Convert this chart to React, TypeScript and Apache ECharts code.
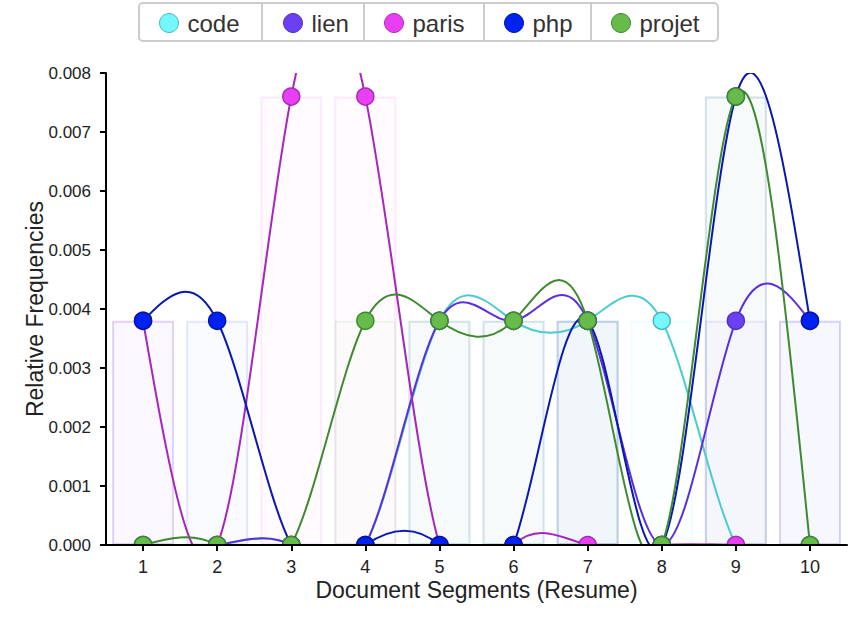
import React, { useEffect, useRef } from 'react';
import * as echarts from 'echarts';

const categories = ['1', '2', '3', '4', '5', '6', '7', '8', '9', '10'];
const seriesNames = ['code', 'lien', 'paris', 'php', 'projet'];
const codeValues = [0, 0, 0, 0, 0.0038, 0.0038, 0.0038, 0.0038, 0, 0];
const lienValues = [0, 0, 0, 0, 0.0038, 0.0038, 0.0038, 0, 0.0038, 0.0038];
const parisValues = [0.0038, 0, 0.0076, 0.0076, 0, 0, 0, 0, 0, 0];
const phpValues = [0.0038, 0.0038, 0, 0, 0, 0, 0.0038, 0, 0.0076, 0.0038];
const projetValues = [0, 0, 0, 0.0038, 0.0038, 0.0038, 0.0038, 0, 0.0076, 0];
const allValues = [codeValues, lienValues, parisValues, phpValues, projetValues];

const markerFill = ['#74f8fb', '#6b3ff2', '#e83ff2', '#0022ee', '#66bb4a'];
const markerStroke = ['#4ab6ba', '#5230c4', '#a82db8', '#0016a8', '#3f8a30'];
const lineColor = ['#4ccbd0', '#5a2fe0', '#a526b8', '#0a18b0', '#3e8a2e'];
const barRgb = ['116,248,251', '107,63,242', '232,63,242', '0,34,238', '102,187,74'];
const legendLefts = [159, 283, 384, 504, 611];
const dividerXs = [262, 364, 484, 591];

const FONT = '"Liberation Sans", Arial, Helvetica, sans-serif';

function controlPoints(x: number[]) {
  const n = x.length - 1;
  const a = new Array(n);
  const b = new Array(n);
  const r = new Array(n);
  let m;
  a[0] = 0; b[0] = 2; r[0] = x[0] + 2 * x[1];
  for (let i = 1; i < n - 1; ++i) { a[i] = 1; b[i] = 4; r[i] = 4 * x[i] + 2 * x[i + 1]; }
  a[n - 1] = 2; b[n - 1] = 7; r[n - 1] = 8 * x[n - 1] + x[n];
  for (let i = 1; i < n; ++i) { m = a[i] / b[i - 1]; b[i] -= m; r[i] -= m * r[i - 1]; }
  a[n - 1] = r[n - 1] / b[n - 1];
  for (let i = n - 2; i >= 0; --i) a[i] = (r[i] - a[i + 1]) / b[i];
  b[n - 1] = (x[n] + a[n - 1]) / 2;
  for (let i = 0; i < n - 1; ++i) b[i] = 2 * x[i + 1] - a[i + 1];
  return [a, b];
}

function naturalPath(pts: number[][]) {
  const xs = pts.map((p) => p[0]);
  const ys = pts.map((p) => p[1]);
  const px = controlPoints(xs);
  const py = controlPoints(ys);
  let d = `M${xs[0]},${ys[0]}`;
  for (let i = 0; i < xs.length - 1; i++) {
    d += `C${px[0][i]},${py[0][i]},${px[1][i]},${py[1][i]},${xs[i + 1]},${ys[i + 1]}`;
  }
  return d;
}

export default function App() {
  const ref = useRef<HTMLDivElement>(null);
  useEffect(() => {
    if (!ref.current) return;
    const chart = echarts.init(ref.current, undefined, { renderer: 'svg' });

    const barSeries = allValues.map((vals, k) => ({
      type: 'bar',
      name: seriesNames[k] + '_bar',
      data: vals,
      barWidth: 62,
      barGap: '-100%',
      itemStyle: {
        color: `rgba(${barRgb[k]},0.018)`,
        borderColor: `rgba(${barRgb[k]},0.1)`,
        borderWidth: 2,
      },
      z: 1,
      silent: true,
    }));

    const lineSeries = allValues.map((vals, k) => ({
      type: 'custom',
      name: seriesNames[k] + '_line',
      clip: true,
      z: 3,
      silent: true,
      data: vals.map((v, i) => [i, v]),
      encode: { x: 0, y: 1 },
      renderItem: (params: any, api: any) => {
        if (params.dataIndex !== 0) return null;
        const pts = vals.map((v, i) => api.coord([i, v]));
        return {
          type: 'path',
          shape: { pathData: naturalPath(pts) },
          style: { fill: 'none', stroke: lineColor[k], lineWidth: 2 },
        };
      },
    }));

    const markerSeries = allValues.map((vals, k) => ({
      type: 'custom',
      name: seriesNames[k],
      clip: true,
      z: 4,
      silent: true,
      itemStyle: { color: markerFill[k], borderColor: markerStroke[k], borderWidth: 1.5 },
      data: vals.map((v, i) => [i, v]),
      encode: { x: 0, y: 1 },
      renderItem: (params: any, api: any) => {
        const p = api.coord([api.value(0), api.value(1)]);
        return {
          type: 'circle',
          shape: { cx: p[0], cy: p[1], r: 8.5 },
          style: { fill: markerFill[k], stroke: markerStroke[k], lineWidth: 1.5 },
        };
      },
    }));

    const legends = seriesNames.map((name, k) => ({
      show: true,
      data: [
        {
          name,
          icon: 'circle',
          itemStyle: { color: markerFill[k], borderColor: markerStroke[k], borderWidth: 1 },
        },
      ],
      left: legendLefts[k],
      top: 11,
      padding: 0,
      itemWidth: 19,
      itemHeight: 19,
      selectedMode: false,
      textStyle: { fontSize: 24, color: '#333', fontFamily: FONT, padding: [0, 0, 0, 4] },
    }));

    const graphicElements: any[] = [
      {
        type: 'rect',
        shape: { x: 139, y: 3, width: 579, height: 38, r: 4 },
        style: { fill: '#fff', stroke: '#cccccc', lineWidth: 2 },
        z: 0,
      },
      ...dividerXs.map((x) => ({
        type: 'line',
        shape: { x1: x, y1: 3, x2: x, y2: 41 },
        style: { stroke: '#cccccc', lineWidth: 2 },
        z: 0,
      })),
    ];

    chart.setOption({
      animation: false,
      backgroundColor: '#ffffff',
      textStyle: { fontFamily: FONT },
      graphic: { elements: graphicElements },
      legend: legends,
      grid: { left: 106, right: 3, top: 73, bottom: 73, containLabel: false },
      xAxis: {
        type: 'category',
        data: categories,
        boundaryGap: true,
        name: 'Document Segments (Resume)',
        nameLocation: 'middle',
        nameGap: 33,
        nameMoveOverlap: false,
        nameTextStyle: { fontSize: 23, color: '#222', fontFamily: FONT },
        axisLine: { show: true, lineStyle: { color: '#000', width: 2 } },
        axisTick: { show: true, alignWithLabel: true, length: 6, lineStyle: { color: '#000', width: 2 } },
        axisLabel: { fontSize: 18, color: '#222', margin: 13, fontFamily: FONT },
        splitLine: { show: false },
        z: 10,
      },
      yAxis: {
        type: 'value',
        min: 0,
        max: 0.008,
        interval: 0.001,
        name: 'Relative Frequencies',
        nameLocation: 'middle',
        nameGap: 60,
        nameMoveOverlap: false,
        nameTextStyle: { fontSize: 23, color: '#222', fontFamily: FONT },
        axisLine: { show: true, lineStyle: { color: '#000', width: 2 } },
        axisTick: { show: true, length: 6, lineStyle: { color: '#000', width: 2 } },
        axisLabel: {
          fontSize: 17,
          color: '#222',
          margin: 15,
          fontFamily: FONT,
          formatter: (v: number) => v.toFixed(3),
        },
        splitLine: { show: false },
        z: 10,
      },
      series: [...barSeries, ...lineSeries, ...markerSeries],
    });
    return () => chart.dispose();
  }, []);

  return (
    <div
      ref={ref}
      style={{ position: 'fixed', left: 0, top: 0, width: 850, height: 618, background: '#fff' }}
    />
  );
}
